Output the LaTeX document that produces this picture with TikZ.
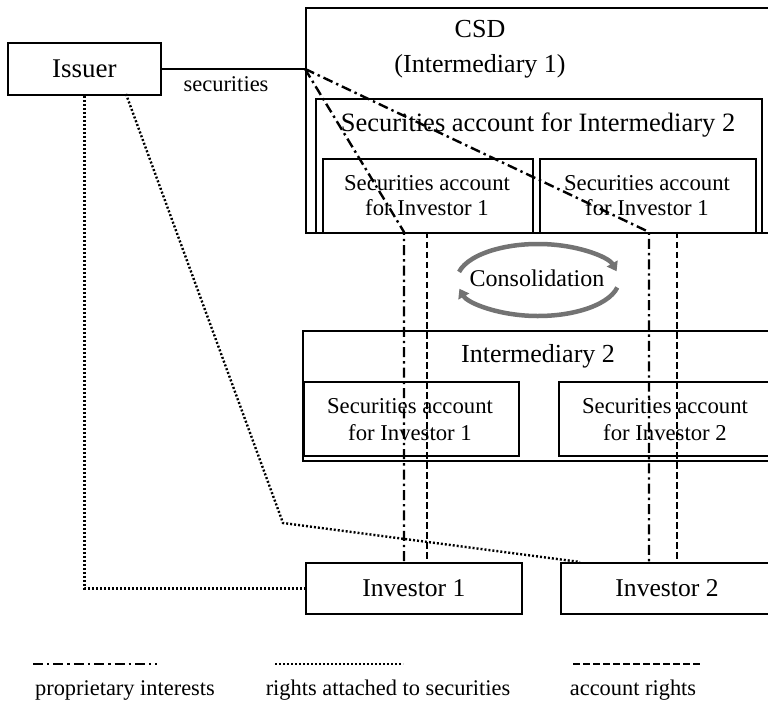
\documentclass[tikz,border=0pt]{standalone}
\usepackage{fontspec}
\setmainfont{Liberation Serif}
\usetikzlibrary{arrows.meta,calc}
\begin{document}
\begin{tikzpicture}[x=1pt,y=1pt,
  box/.style={draw, line width=1.8pt, rectangle, inner sep=0pt, anchor=north west},
  lbl/.style={inner sep=0pt, align=center},
  propline/.style={line width=2.4pt, dash pattern=on 10pt off 4pt on 2.4pt off 4pt},
  rightsline/.style={line width=2.4pt, dash pattern=on 2pt off 2pt},
  acctline/.style={line width=2.4pt, dash pattern=on 6.5pt off 3.5pt},
  consarrow/.style={line width=4.5pt, draw=black!55, -{Triangle[length=9pt,width=12pt]}}
]
\useasboundingbox (0,0) rectangle (768,-703);
\clip (0,0) rectangle (768,-703);

% boxes
\node[box, minimum width=153pt, minimum height=52pt, font=\fontsize{27}{30}\selectfont] (issuer) at (7,-42) {Issuer};
\node[box, minimum width=500pt, minimum height=225pt] (csd) at (305,-7) {};
\node[lbl, font=\fontsize{26}{35}\selectfont] (csdtxt) at (480,-49) {CSD\\(Intermediary 1)};
\node[box, minimum width=446pt, minimum height=134pt] (int2acct) at (315,-98) {};
\node[lbl, font=\fontsize{26.5}{30}\selectfont] (int2accttxt) at (538,-125) {Securities account for Intermediary 2};
\node[box, minimum width=210pt, minimum height=74pt] (acctA) at (322,-158) {};
\node[lbl, font=\fontsize{22.7}{25}\selectfont] (acctAtxt) at (427,-196) {Securities account\\for Investor 1};
\node[box, minimum width=216pt, minimum height=74pt] (acctB) at (539,-158) {};
\node[lbl, font=\fontsize{22.7}{25}\selectfont] (acctBtxt) at (647,-196) {Securities account\\for Investor 1};

\node[box, minimum width=500pt, minimum height=130pt] (int2) at (302,-330) {};
\node[lbl, font=\fontsize{26}{30}\selectfont] (int2txt) at (538,-356) {Intermediary 2};
\node[box, minimum width=215pt, minimum height=74pt] (acctC) at (303,-381) {};
\node[lbl, font=\fontsize{22.7}{27}\selectfont] (acctCtxt) at (410,-420) {Securities account\\for Investor 1};
\node[box, minimum width=250pt, minimum height=74pt] (acctD) at (558,-381) {};
\node[lbl, font=\fontsize{22.7}{27}\selectfont] (acctDtxt) at (665,-420) {Securities account\\for Investor 2};

\node[box, minimum width=216pt, minimum height=51pt, font=\fontsize{25.6}{30}\selectfont] (inv1) at (305,-562) {Investor 1};
\node[box, minimum width=250pt, minimum height=51pt] (inv2) at (560,-562) {};
\node[lbl, font=\fontsize{25.6}{30}\selectfont] (inv2txt) at (667,-588) {Investor 2};

% consolidation
\node[lbl, font=\fontsize{24}{24}\selectfont] (cons) at (537,-278) {Consolidation};
\draw[consarrow] (538,-280) ++(167:81 and 36) arc[start angle=167, end angle=14, x radius=81, y radius=36];
\draw[consarrow] (538,-280) ++(-12:81 and 36) arc[start angle=-12, end angle=-166, x radius=81, y radius=36];

% securities line
\draw[line width=1.8pt] (issuer.east) -- (issuer.east -| csd.west) coordinate (sec);
\node[lbl, font=\fontsize{22.5}{25}\selectfont] (sectxt) at (226,-84) {securities};

% proprietary interests
\coordinate (pA) at (404,-232);
\coordinate (pB) at (649,-232);
\draw[propline] (sec) -- (pA) -- (pA |- inv1.north);
\draw[propline] (sec) -- (pB) -- (pB |- inv2.north);

% account rights
\coordinate (aA) at (427,-232);
\coordinate (aB) at (677,-232);
\draw[acctline] (aA) -- (aA |- inv1.north);
\draw[acctline] (aB) -- (aB |- inv2.north);

% rights attached to securities
\draw[rightsline] (issuer.south) -- (issuer.south |- inv1.west) -- (inv1.west);
\coordinate (rA) at (126,-94);
\coordinate (rB) at (283,-523);
\coordinate (rC) at (580,-562);
\draw[rightsline] (rA) -- (rB) -- (rC);

% legend
\coordinate (l1a) at (33,-664); \coordinate (l1b) at (157,-664);
\coordinate (l2a) at (275,-664); \coordinate (l2b) at (403,-664);
\coordinate (l3a) at (573,-664); \coordinate (l3b) at (703,-664);
\draw[propline] (l1a) -- (l1b);
\draw[rightsline] (l2a) -- (l2b);
\draw[acctline] (l3a) -- (l3b);
\node[lbl, font=\fontsize{22.4}{25}\selectfont] (leg1) at (125,-690) {proprietary interests};
\node[lbl, font=\fontsize{22.4}{25}\selectfont] (leg2) at (388,-690) {rights attached to securities};
\node[lbl, font=\fontsize{22.4}{25}\selectfont] (leg3) at (633,-690) {account rights};
\end{tikzpicture}
\end{document}
